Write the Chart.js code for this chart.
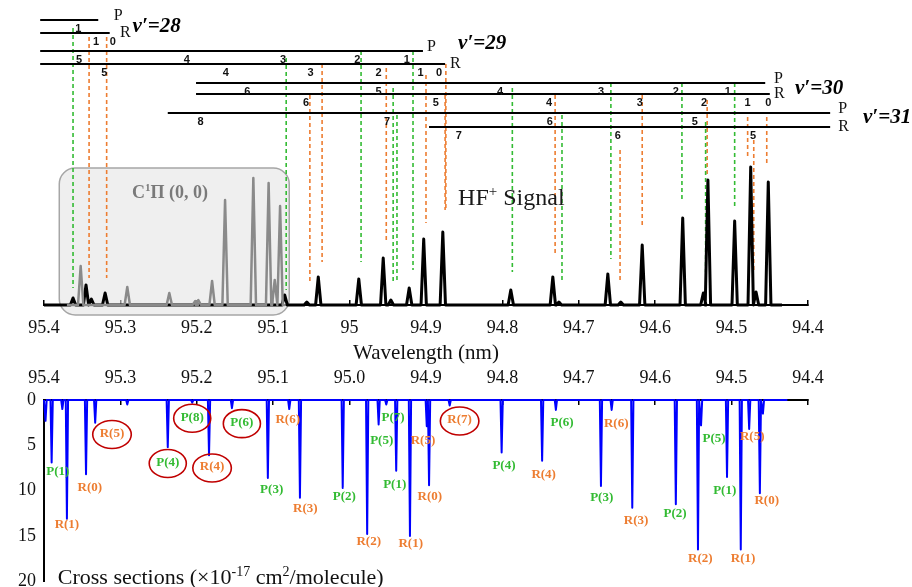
<!DOCTYPE html>
<html lang="en">
<head>
<meta charset="UTF-8">
<title>HF+ signal and cross sections</title>
<script src="https://cdn.jsdelivr.net/npm/chart.js@4.4.0"></script>
<style>
    html, body { margin: 0; background: #fff; overflow: hidden; }
    canvas { position: absolute; left: 0; }
    #topChart { top: 0; }
    #botChart { top: 360px; }
</style>
</head>
<body>
<canvas id="topChart" width="912" height="372"></canvas>
<canvas id="botChart" width="912" height="240"></canvas>
<script>
// ---- axis ticks ----
const tickValues = [95.4, 95.3, 95.2, 95.1, 95.0, 94.9, 94.8, 94.7, 94.6, 94.5, 94.4];
const topTickLabels = ['95.4', '95.3', '95.2', '95.1', '95', '94.9', '94.8', '94.7', '94.6', '94.5', '94.4'];
const botTickLabels = ['95.4', '95.3', '95.2', '95.1', '95.0', '94.9', '94.8', '94.7', '94.6', '94.5', '94.4'];
const csTickValues = [0, 5, 10, 15, 20];
const csTickLabels = ['0', '5', '10', '15', '20'];

// ---- HF+ signal peaks (nm, arb. units) ----
const hfPeakNm  = [95.362, 95.345, 95.338, 95.320, 95.085, 95.056, 95.041, 94.988, 94.956, 94.946, 94.922, 94.903, 94.878,
                   94.789, 94.734, 94.726, 94.662, 94.645, 94.617, 94.564, 94.537, 94.531, 94.496, 94.475, 94.468, 94.452];
const hfPeakInt = [7, 20, 6, 12, 10, 3, 28, 26, 47, 5, 17, 66, 73,
                   15, 28, 3, 31, 3, 60, 87, 12, 125, 84, 138, 13, 123];

// ---- C1Pi (0,0) peaks (grey) ----
const c1PeakNm  = [95.352, 95.291, 95.236, 95.202, 95.198, 95.180, 95.163, 95.126, 95.106, 95.098, 95.091];
const c1PeakInt = [39, 18, 12, 4, 5, 24, 105, 127, 122, 25, 99];

// ---- cross sections (x1e-17 cm2/molecule) ----
const csPeakNm  = [95.398, 95.390, 95.376, 95.370, 95.345, 95.333, 95.291, 95.238, 95.206, 95.184, 95.154, 95.107, 95.079,
                   95.065, 95.009, 94.977, 94.962, 94.952, 94.939, 94.921, 94.899, 94.896, 94.869, 94.801, 94.748, 94.730,
                   94.671, 94.657, 94.630, 94.573, 94.544, 94.540, 94.506, 94.488, 94.477, 94.463, 94.459];
const csPeakVal = [2.3, 6.9, 1.0, 13.1, 8.2, 2.5, 0.5, 5.2, 0.3, 6.1, 0.9, 8.6, 1.0,
                   10.8, 9.7, 14.8, 2.7, 0.5, 7.8, 15.0, 2.9, 9.4, 0.6, 5.8, 6.7, 1.1,
                   9.5, 1.1, 11.9, 11.5, 16.5, 2.8, 8.5, 16.5, 3.2, 10.3, 1.5];

// ---- cross section assignments ----
const csLabelText = ['P(1)', 'R(1)', 'R(0)', 'R(5)', 'P(4)', 'P(8)', 'R(4)', 'P(6)', 'R(6)', 'P(3)', 'R(3)',
                     'P(2)', 'R(2)', 'P(7)', 'P(5)', 'P(1)', 'R(5)', 'R(1)', 'R(0)', 'R(7)', 'P(4)', 'R(4)',
                     'P(6)', 'P(3)', 'R(6)', 'R(3)', 'P(2)', 'R(2)', 'P(5)', 'P(1)', 'R(1)', 'R(5)', 'R(0)'];
const csLabelNm  = [95.382, 95.370, 95.340, 95.311, 95.238, 95.206, 95.180, 95.141, 95.081, 95.102, 95.058,
                    95.007, 94.975, 94.943, 94.958, 94.941, 94.904, 94.920, 94.895, 94.856, 94.798, 94.746,
                    94.722, 94.670, 94.651, 94.625, 94.574, 94.541, 94.523, 94.509, 94.485, 94.473, 94.454];
const csLabelVal = [7.9, 13.8, 9.7, 3.7, 6.9, 1.9, 7.4, 2.5, 2.2, 9.9, 12.0,
                    10.7, 15.6, 1.9, 4.5, 9.3, 4.5, 15.8, 10.7, 2.2, 7.2, 8.2,
                    2.5, 10.8, 2.6, 13.3, 12.5, 17.5, 4.3, 10.0, 17.5, 4.0, 11.1];
const csCircled  = ['R(5)@95.311', 'P(4)@95.238', 'P(8)@95.206', 'R(4)@95.18', 'P(6)@95.141', 'R(7)@94.856'];

// ---- rotational branches (top ladder) ----
const branchName  = ['P', 'R', 'P', 'R', 'P', 'R', 'P', 'R'];
const branchLevel = [285, 272, 254, 241, 222, 211, 192, 178];
const branchFrom  = [95.405, 95.405, 95.405, 95.405, 95.201, 95.201, 95.238, 94.896];
const branchTo    = [95.329, 95.314, 94.904, 94.875, 94.456, 94.450, 94.371, 94.371];
const branchTagNm = [95.302, 95.294, 94.892, 94.862, 94.438, 94.438, 94.354, 94.354];
const vibLabel = ['28', '29', '30', '31'];
const vibNm    = [95.284, 94.858, 94.417, 94.328];
const vibLevel = [280, 263, 218, 189];

const ladderRow = [0, 1, 1, 2, 2, 2, 2, 2, 3, 3, 3, 3, 3, 3, 4, 4, 4, 4, 4, 4, 5, 5, 5, 5, 5, 5, 5, 6, 6, 6, 6, 7, 7, 7];
const ladderJ   = [1, 1, 0, 5, 4, 3, 2, 1, 5, 4, 3, 2, 1, 0, 6, 5, 4, 3, 2, 1, 6, 5, 4, 3, 2, 1, 0, 8, 7, 6, 5, 7, 6, 5];
const ladderNm  = [95.355, 95.332, 95.310, 95.354, 95.213, 95.087, 94.990, 94.925,
                   95.321, 95.162, 95.051, 94.962, 94.907, 94.883,
                   95.134, 94.962, 94.803, 94.671, 94.573, 94.505,
                   95.057, 94.887, 94.739, 94.620, 94.536, 94.479, 94.452,
                   95.195, 94.951, 94.738, 94.548, 94.857, 94.649, 94.472];

// dashed assignment lines: wavelength, top level, bottom level, branch
const assignNm  = [95.362, 95.341, 95.318, 95.083, 95.036, 95.052, 94.985, 94.952, 94.943, 94.938, 94.917, 94.900, 94.874,
                   94.875, 94.787, 94.731, 94.722, 94.658, 94.646, 94.617, 94.565, 94.534, 94.532, 94.496, 94.479, 94.471, 94.454];
const assignTop = [277, 268, 268, 247, 241, 210, 254, 237, 217, 190, 254, 230, 241,
                   210, 217, 210, 190, 222, 155, 210, 222, 183, 205, 222, 188, 165, 188];
const assignBot = [17, 27, 27, 15, 43, 22, 43, 65, 23, 25, 35, 82, 95,
                   95, 33, 49, 22, 46, 22, 80, 103, 33, 130, 98, 148, 33, 142];
const assignBr  = ['P', 'R', 'R', 'P', 'R', 'R', 'P', 'R', 'P', 'P', 'P', 'R', 'R',
                   'R', 'P', 'R', 'P', 'P', 'R', 'R', 'P', 'P', 'R', 'P', 'R', 'R', 'R'];

const GREEN = '#33bb33';
const ORANGE = '#ed7d31';
const SERIF = '"Liberation Serif", "Times New Roman", serif';

Chart.defaults.font.family = SERIF;

function spikes(nm, val, from, to, halfW) {
    const order = nm.map((_, i) => i).sort((a, b) => nm[b] - nm[a]);
    const pts = [{ x: from, y: 0 }];
    order.forEach(i => {
        pts.push({ x: nm[i] + halfW, y: 0 }, { x: nm[i], y: val[i] }, { x: nm[i] - halfW, y: 0 });
    });
    pts.push({ x: to, y: 0 });
    return pts;
}

function dashed(branch) {
    const pts = [];
    assignNm.forEach((nm, i) => {
        if (assignBr[i] !== branch) return;
        pts.push({ x: nm, y: assignTop[i] }, { x: nm, y: assignBot[i] }, { x: nm, y: null });
    });
    return pts;
}

const ladderPts = [];
branchLevel.forEach((lv, i) => {
    ladderPts.push({ x: branchFrom[i], y: lv }, { x: branchTo[i], y: lv }, { x: branchTo[i], y: null });
});

// text with superscript parts: [[text, isSup], ...]
function rich(ctx, x, y, parts, size, weight, style, align) {
    const big = `${style} ${weight} ${size}px ${SERIF}`;
    const small = `${style} ${weight} ${Math.round(size * 0.62)}px ${SERIF}`;
    let total = 0;
    parts.forEach(([t, sup]) => { ctx.font = sup ? small : big; total += ctx.measureText(t).width; });
    let cx = align === 'center' ? x - total / 2 : x;
    ctx.textAlign = 'left';
    ctx.textBaseline = 'alphabetic';
    parts.forEach(([t, sup]) => {
        ctx.font = sup ? small : big;
        ctx.fillText(t, cx, sup ? y - size * 0.38 : y);
        cx += ctx.measureText(t).width;
    });
}

const topDecor = {
    id: 'topDecor',
    beforeDatasetsDraw(chart) {
        const { ctx, scales: { x, y } } = chart;
        const l = x.getPixelForValue(95.380), r = x.getPixelForValue(95.079);
        const t = y.getPixelForValue(137), b = y.getPixelForValue(-10);
        ctx.save();
        ctx.beginPath();
        ctx.roundRect(l, t, r - l, b - t, 16);
        ctx.fillStyle = 'rgba(228,228,228,0.6)';
        ctx.fill();
        ctx.lineWidth = 1.5;
        ctx.strokeStyle = '#a6a6a6';
        ctx.stroke();
        ctx.fillStyle = '#7a7a7a';
        rich(ctx, x.getPixelForValue(95.235), y.getPixelForValue(113) + 6,
            [['C', false], ['1', true], ['\u03A0 (0, 0)', false]], 18, 'bold', 'normal', 'center');
        ctx.restore();
    },
    afterDatasetsDraw(chart) {
        const { ctx, scales: { x, y } } = chart;
        ctx.save();
        // rotational quantum numbers
        ctx.fillStyle = '#111';
        ctx.font = 'bold 11px "Liberation Sans", Arial, sans-serif';
        ctx.textAlign = 'center';
        ctx.textBaseline = 'middle';
        ladderJ.forEach((j, i) => {
            ctx.fillText(String(j), x.getPixelForValue(ladderNm[i]), y.getPixelForValue(branchLevel[ladderRow[i]]) + 9);
        });
        // P / R tags
        ctx.font = `16px ${SERIF}`;
        ctx.textAlign = 'left';
        branchName.forEach((n, i) => {
            const off = n === 'P' ? -4 : 0;
            ctx.fillText(n, x.getPixelForValue(branchTagNm[i]) - 5, y.getPixelForValue(branchLevel[i]) + off);
        });
        // v' labels
        ctx.fillStyle = '#000';
        vibLabel.forEach((v, i) => {
            rich(ctx, x.getPixelForValue(vibNm[i]), y.getPixelForValue(vibLevel[i]) + 7,
                [['\u03BD\u2032=' + v, false]], 21, 'bold', 'italic', 'left');
        });
        // HF+ Signal
        ctx.fillStyle = '#1a1a1a';
        rich(ctx, x.getPixelForValue(94.858), y.getPixelForValue(108) + 8,
            [['HF', false], ['+', true], [' Signal', false]], 24, 'normal', 'normal', 'left');
        ctx.restore();
    }
};

new Chart(document.getElementById('topChart'), {
    type: 'line',
    data: {
        datasets: [
            { data: spikes(c1PeakNm, c1PeakInt, 95.37, 95.085, 0.0035), borderColor: '#8a8a8a', borderWidth: 2.5, borderJoinStyle: 'round' },
            { data: spikes(hfPeakNm, hfPeakInt, 95.4, 94.434, 0.0035), borderColor: '#000', borderWidth: 3, borderJoinStyle: 'round' },
            { data: ladderPts, borderColor: '#000', borderWidth: 2 },
            { data: dashed('P'), borderColor: GREEN, borderWidth: 1.6, borderDash: [4, 3] },
            { data: dashed('R'), borderColor: ORANGE, borderWidth: 1.6, borderDash: [4, 3] }
        ]
    },
    options: {
        responsive: false,
        animation: false,
        devicePixelRatio: 1,
        layout: { padding: { left: 44, right: 104, top: 0, bottom: 0 } },
        datasets: { line: { pointRadius: 0, tension: 0, clip: false, spanGaps: false } },
        plugins: { legend: { display: false }, tooltip: { enabled: false } },
        scales: {
            x: {
                type: 'linear', min: 94.4, max: 95.4, reverse: true, position: 'bottom',
                afterBuildTicks: s => { s.ticks = tickValues.map(v => ({ value: v })); },
                afterFit: s => { s.height = 67; },
                ticks: { callback: (v, i) => topTickLabels[i], color: '#111', font: { size: 18 }, padding: 17, maxRotation: 0, autoSkip: false },
                grid: { drawOnChartArea: false, drawTicks: true, tickLength: -5, color: '#000', lineWidth: 1.5 },
                border: { display: true, color: '#000', width: 2 },
                title: { display: true, text: 'Wavelength (nm)', color: '#111', font: { size: 21 }, padding: { top: 0, bottom: 6 } }
            },
            y: { display: false, min: 0, max: 305 }
        }
    },
    plugins: [topDecor]
});

const botDecor = {
    id: 'botDecor',
    afterDatasetsDraw(chart) {
        const { ctx, scales: { x, y } } = chart;
        ctx.save();
        ctx.font = `bold 13px ${SERIF}`;
        ctx.textAlign = 'center';
        ctx.textBaseline = 'middle';
        csLabelText.forEach((t, i) => {
            const px = x.getPixelForValue(csLabelNm[i]), py = y.getPixelForValue(csLabelVal[i]);
            ctx.fillStyle = t[0] === 'P' ? GREEN : ORANGE;
            ctx.fillText(t, px, py);
            const key = t + '@' + csLabelNm[i];
            if (csCircled.includes(key)) {
                const w = ctx.measureText(t).width;
                ctx.beginPath();
                ctx.ellipse(px, py + 1, w / 2 + 7, 14, 0, 0, Math.PI * 2);
                ctx.strokeStyle = '#c00000';
                ctx.lineWidth = 1.6;
                ctx.stroke();
            }
        });
        ctx.fillStyle = '#111';
        rich(ctx, x.getPixelForValue(95.382), y.getPixelForValue(19.55) + 7,
            [['Cross sections (\u00D710', false], ['-17', true], [' cm', false], ['2', true], ['/molecule)', false]],
            22, 'normal', 'normal', 'left');
        ctx.restore();
    }
};

new Chart(document.getElementById('botChart'), {
    type: 'line',
    data: {
        datasets: [
            { data: spikes(csPeakNm, csPeakVal, 95.4, 94.427, 0.0015), borderColor: '#0000ff', borderWidth: 2, borderJoinStyle: 'round' }
        ]
    },
    options: {
        responsive: false,
        animation: false,
        devicePixelRatio: 1,
        layout: { padding: { left: 0, right: 104, top: 0, bottom: 8 } },
        datasets: { line: { pointRadius: 0, tension: 0, clip: false } },
        plugins: { legend: { display: false }, tooltip: { enabled: false } },
        scales: {
            x: {
                type: 'linear', min: 94.4, max: 95.4, reverse: true, position: 'top',
                afterBuildTicks: s => { s.ticks = tickValues.map(v => ({ value: v })); },
                afterFit: s => { s.height = 40; },
                ticks: { callback: (v, i) => botTickLabels[i], color: '#111', font: { size: 18 }, padding: 16, maxRotation: 0, autoSkip: false },
                grid: { drawOnChartArea: false, drawTicks: true, tickLength: -5, color: '#000', lineWidth: 1.5 },
                border: { display: true, color: '#000', width: 2 }
            },
            y: {
                type: 'linear', min: 0, max: 20, reverse: true,
                afterBuildTicks: s => { s.ticks = csTickValues.map(v => ({ value: v })); },
                afterFit: s => { s.width = 44; },
                ticks: { callback: (v, i) => csTickLabels[i], color: '#111', font: { size: 18 }, padding: 8 },
                grid: { drawOnChartArea: false, drawTicks: false },
                border: { display: true, color: '#000', width: 2 }
            }
        }
    },
    plugins: [botDecor]
});
</script>
</body>
</html>
